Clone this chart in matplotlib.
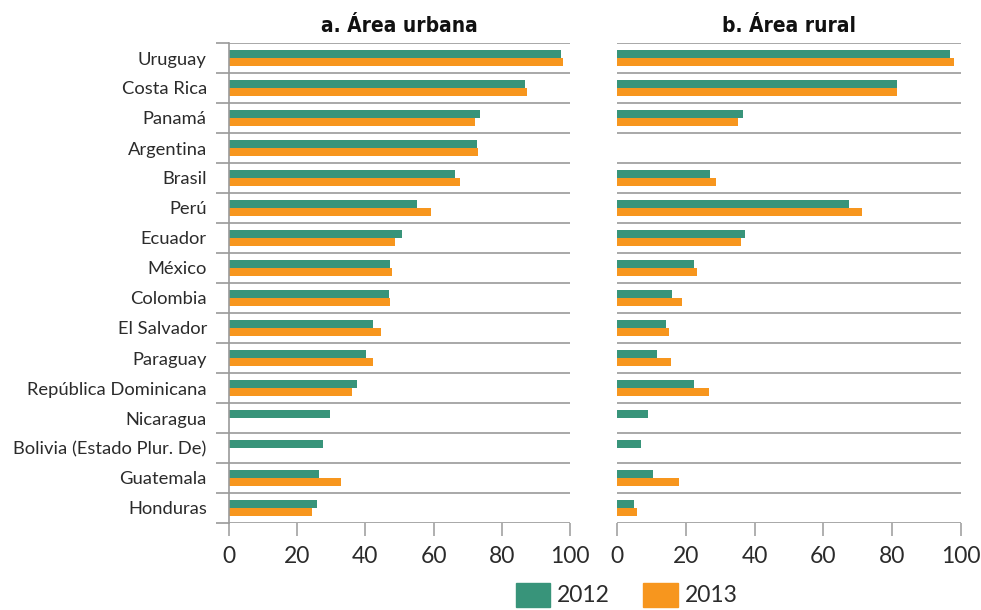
import numpy as np
import matplotlib
matplotlib.use("Agg")
import matplotlib.pyplot as plt
from matplotlib.patches import Patch

# Datos por país (porcentaje), de arriba hacia abajo
countries = ['Uruguay', 'Costa Rica', 'Panamá', 'Argentina', 'Brasil', 'Perú',
             'Ecuador', 'México', 'Colombia', 'El Salvador', 'Paraguay',
             'República Dominicana', 'Nicaragua', 'Bolivia (Estado Plur. De)',
             'Guatemala', 'Honduras']
nan = np.nan
urban_2012 = [97.3, 86.7, 73.6, 72.7, 66.4, 55.1, 50.7, 47.1, 46.8, 42.1, 40.1,
              37.4, 29.5, 27.5, 26.5, 25.8]
urban_2013 = [97.9, 87.5, 72.0, 73.0, 67.7, 59.1, 48.8, 47.8, 47.1, 44.7, 42.1,
              36.1, nan, nan, 32.8, 24.4]
rural_2012 = [96.9, 81.5, 36.5, nan, 27.0, 67.3, 37.2, 22.5, 15.9, 14.2, 11.6,
              22.5, 8.9, 7.0, 10.6, 4.8]
rural_2013 = [97.9, 81.5, 35.3, nan, 28.7, 71.3, 36.0, 23.4, 18.9, 15.2, 15.6,
              26.8, nan, nan, 17.9, 5.8]
years = ['2012', '2013']
xticks = [0, 20, 40, 60, 80, 100]

green = '#38947a'
orange = '#f7961e'
grid_col = '#9a9a9a'
text_col = '#2b2b2b'

plt.rcParams['font.family'] = ['Lato', 'DejaVu Sans']

fig = plt.figure(figsize=(9.81, 6.10), dpi=100)
ax1 = fig.add_axes([229 / 981, 1 - 523 / 610, 341 / 981, 480 / 610])
ax2 = fig.add_axes([617 / 981, 1 - 523 / 610, 344 / 981, 480 / 610])

y = np.arange(len(countries))
h = 0.27

for ax, v12, v13, title in [(ax1, urban_2012, urban_2013, 'a. Área urbana'),
                            (ax2, rural_2012, rural_2013, 'b. Área rural')]:
    ax.barh(y - h / 2, v12, height=h, color=green)
    ax.barh(y + h / 2, v13, height=h, color=orange)
    for b in np.arange(-0.5, len(countries) + 0.5, 1):
        ax.axhline(b, color=grid_col, lw=1.2, zorder=0)
    ax.set_xlim(0, 100)
    ax.set_ylim(len(countries) - 0.5, -0.5)
    ax.set_xticks(xticks)
    ax.tick_params(axis='x', length=9.5, width=1.1, color=grid_col, pad=7,
                   labelsize=16.5, labelcolor=text_col)
    for s in ['top', 'right', 'bottom', 'left']:
        ax.spines[s].set_visible(False)
    cx = (ax.get_position().x0 + ax.get_position().x1) / 2
    fig.text(cx, 0.957, title, ha='center', va='center', fontsize=15,
             fontweight='bold', fontstretch='condensed', family='DejaVu Sans',
             color='#111111')

ax1.spines['left'].set_visible(True)
ax1.spines['left'].set_color(grid_col)
ax1.spines['left'].set_linewidth(1.2)
ax1.set_yticks(y)
ax1.set_yticklabels(countries)
ax1.set_yticks(np.arange(-0.5, len(countries) + 0.5, 1), minor=True)
ax1.tick_params(axis='y', which='major', length=0, pad=16, labelsize=13.2,
                labelcolor=text_col)
ax1.tick_params(axis='y', which='minor', length=9.5, width=1.2, color=grid_col)
ax2.set_yticks([])

handles = [Patch(color=green, label=years[0]), Patch(color=orange, label=years[1])]
fig.legend(handles=handles, loc='center', bbox_to_anchor=(0.639, 0.025), ncol=2,
           frameon=False, fontsize=16.5, handlelength=1.5, handleheight=1.25,
           handletextpad=0.3, columnspacing=1.45, labelcolor=text_col)

fig.savefig('out.png', dpi=100)
